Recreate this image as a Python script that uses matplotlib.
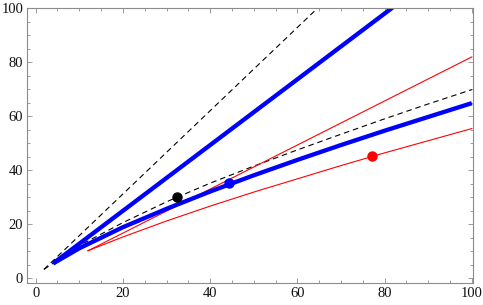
import numpy as np
import matplotlib
matplotlib.use('Agg')
import matplotlib.pyplot as plt
from matplotlib.ticker import MultipleLocator

plt.rcParams['font.family'] = ['Liberation Serif', 'DejaVu Serif']

# ── data ─────────────────────────────────────────────────────
# steep dashed reference line
dash_hi_x = [1.9, 70.0]
dash_hi_y = [3.3, 108.2]

# lower dashed reference curve
dash_lo_x = [1.9, 10, 20, 30, 40, 50, 60, 70, 80, 90, 100]
dash_lo_y = [3.3, 12.1, 20.6, 28.3, 35.2, 41.5, 47.5, 53.3, 59.0, 64.5, 69.8]

# thick blue straight line
blue_hi_x = [4.0, 90.0]
blue_hi_y = [5.5, 110.1]

# thick blue curve
blue_lo_x = [4, 10, 20, 30, 40, 50, 60, 70, 80, 90, 100]
blue_lo_y = [5.5, 11.1, 18.9, 25.7, 32.1, 38.1, 43.8, 49.3, 54.6, 59.7, 64.8]

# thin red straight line
red_hi_x = [12.0, 100.0]
red_hi_y = [10.2, 81.9]

# thin red curve
red_lo_x = [12, 20, 30, 40, 50, 60, 70, 80, 90, 100]
red_lo_y = [10.2, 15.3, 21.2, 26.7, 31.9, 36.8, 41.7, 46.4, 50.9, 55.4]

# marked points
dot_x = [32.3, 44.4, 77.1]
dot_y = [30.0, 35.1, 45.2]
dot_c = ['black', 'blue', 'red']

# ── figure ───────────────────────────────────────────────────
fig = plt.figure(figsize=(4.83, 3.05), dpi=100)
ax = fig.add_axes([0.0553, 0.0711, 0.9234, 0.9027])

ax.plot(dash_hi_x, dash_hi_y, color='black', lw=0.8, dashes=(5, 3.5))
ax.plot(dash_lo_x, dash_lo_y, color='black', lw=0.8, dashes=(5, 3.5))
ax.plot(red_hi_x, red_hi_y, color='red', lw=0.8)
ax.plot(red_lo_x, red_lo_y, color='red', lw=0.8)
ax.plot(blue_hi_x, blue_hi_y, color='blue', lw=3.1, solid_capstyle='butt')
ax.plot(blue_lo_x, blue_lo_y, color='blue', lw=3.1, solid_capstyle='butt')

for x, y, c in zip(dot_x, dot_y, dot_c):
    ax.plot(x, y, 'o', color=c, ms=6.5, zorder=5)

ax.set_xlim(-2.05, 100.2)
ax.set_ylim(-1.85, 100)

ax.xaxis.set_major_locator(MultipleLocator(20))
ax.xaxis.set_minor_locator(MultipleLocator(5))
ax.yaxis.set_major_locator(MultipleLocator(20))
ax.yaxis.set_minor_locator(MultipleLocator(5))

for s in ax.spines.values():
    s.set_color('#8c8c8c')
    s.set_linewidth(0.8)
ax.tick_params(which='both', direction='in', top=True, right=True,
               color='#8c8c8c', width=0.6, labelsize=10.5, labelcolor='#111111')
ax.tick_params(which='major', length=3.5, pad=2.5)
ax.tick_params(which='minor', length=2)

fig.savefig('out.png', dpi=100)
